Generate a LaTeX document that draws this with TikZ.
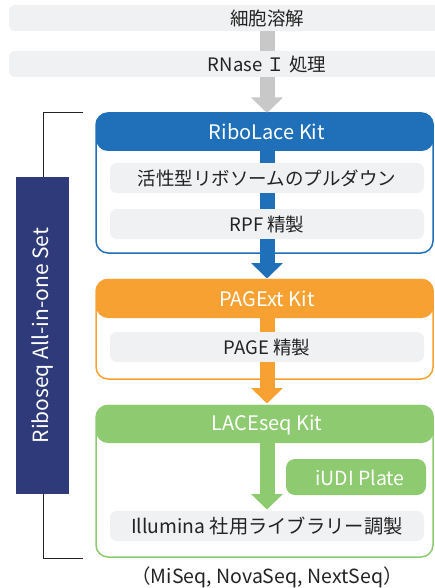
\documentclass[tikz,border=0pt]{standalone}
\usepackage{fontspec}
\setmainfont{Noto Sans CJK JP}
\usetikzlibrary{arrows.meta}
\definecolor{kblue}{RGB}{31,112,185}
\definecolor{korange}{RGB}{247,161,51}
\definecolor{kgreen}{RGB}{142,203,112}
\definecolor{knavy}{RGB}{46,58,122}
\definecolor{kbar}{RGB}{240,241,243}
\definecolor{kgrayarrow}{RGB}{200,200,200}
\definecolor{ktext}{RGB}{35,35,35}
\begin{document}
\begin{tikzpicture}[x=1pt,y=-1pt,
  bodyfont/.style={font=\fontsize{18.5}{20}\selectfont},
  headfont/.style={font=\fontsize{20}{22}\selectfont},
  topbar/.style={fill=kbar,rounded corners=6pt},
  stepbar/.style={fill=kbar,rounded corners=7pt},
  frame/.style={line width=1.5pt,rounded corners=12pt},
  header/.style={rounded corners=12pt},
  lbl/.style={text=ktext,bodyfont,inner sep=0pt},
  hlbl/.style={text=white,headfont,inner sep=0pt},
  shaft/.style={line width=15pt},
  fatarrow/.style={line width=15pt,-{Triangle[length=15.5pt,width=31pt]}},
]
\useasboundingbox (0,0) rectangle (435,588);

% top gray steps
\fill[topbar] (9,5) rectangle (445,31);
\node[lbl] (lysis) at (267,18) {細胞溶解};
\coordinate (b1s) at (267,31);
\fill[topbar] (9,51) rectangle (445,77);
\node[lbl] (rnase) at (267,64) {RNase Ｉ 処理};
\coordinate (b2n) at (267,51);
\coordinate (b2s) at (267,77);
\draw[shaft,kgrayarrow] (b1s) -- (b2n);

% ---- RiboLace Kit
\draw[frame,kblue,fill=white] (96,113) rectangle (433,253);
\coordinate (blueTop) at (267,112.5);
\draw[fatarrow,kgrayarrow,shorten >=-0.5pt] (b2s) -- (blueTop);
\fill[header,kblue] (96,112.5) rectangle (433.75,151);
\node[hlbl] (ribolace) at (267,132) {RiboLace Kit};
\coordinate (bh) at (267,151);
\fill[stepbar] (110,163) rectangle (424,193);
\node[lbl] (pull) at (267,178.5) {活性型リボソームのプルダウン};
\fill[stepbar] (110,209) rectangle (424,239);
\node[lbl] (rpf) at (267,224) {RPF 精製};
\coordinate (g1n) at (267,163);
\coordinate (g1s) at (267,193);
\coordinate (g2n) at (267,209);
\coordinate (g2s) at (267,239);
\draw[shaft,kblue] (bh) -- (g1n);
\draw[shaft,kblue] (g1s) -- (g2n);

% ---- PAGExt Kit
\draw[frame,korange,fill=white] (96,279.5) rectangle (433,379);
\coordinate (orTop) at (267,278.5);
\draw[fatarrow,kblue] (g2s) -- (orTop);
\fill[header,korange] (96,278.75) rectangle (433.75,318);
\node[hlbl] (pagext) at (267,299) {PAGExt Kit};
\coordinate (oh) at (267,318);
\fill[stepbar] (110,332) rectangle (424,362);
\node[lbl] (page) at (267,347) {PAGE 精製};
\coordinate (g3n) at (267,332);
\coordinate (g3s) at (267,362);
\draw[shaft,korange] (oh) -- (g3n);

% ---- LACEseq Kit
\draw[frame,kgreen,fill=white] (96,405.5) rectangle (433,557);
\coordinate (grTop) at (267,403.5);
\draw[fatarrow,korange] (g3s) -- (grTop);
\fill[header,kgreen] (96,404.75) rectangle (433.75,443);
\node[hlbl] (laceseq) at (267,425) {LACEseq Kit};
\coordinate (gh) at (267,443);
\fill[kgreen,rounded corners=9pt] (286,459) rectangle (426,495);
\node[hlbl,font=\fontsize{19.5}{21}\selectfont] (iudi) at (360,477.5) {iUDI Plate};
\fill[stepbar] (110,511) rectangle (424,541);
\node[lbl,font=\fontsize{19.3}{21}\selectfont] (illumina) at (267,526) {Illumina 社用ライブラリー調製};
\coordinate (g4n) at (267,509.5);
\draw[fatarrow,kgreen] (gh) -- (g4n);

\node[lbl,font=\fontsize{19.5}{21}\selectfont] (seqs) at (267,577) {（MiSeq, NovaSeq, NextSeq）};

% ---- bracket and set label
\coordinate (brTop) at (83,113);
\coordinate (brBot) at (83,558);
\draw[line width=1pt,ktext] (brTop) -- (43,113) -- (43,558) -- (brBot);
\fill[knavy] (16,177) rectangle (69,494);
\node[text=white,inner sep=0pt,rotate=90,font=\fontsize{21}{23}\selectfont] (setlbl) at (42.5,335.5) {Riboseq All-in-one Set};
\end{tikzpicture}
\end{document}
